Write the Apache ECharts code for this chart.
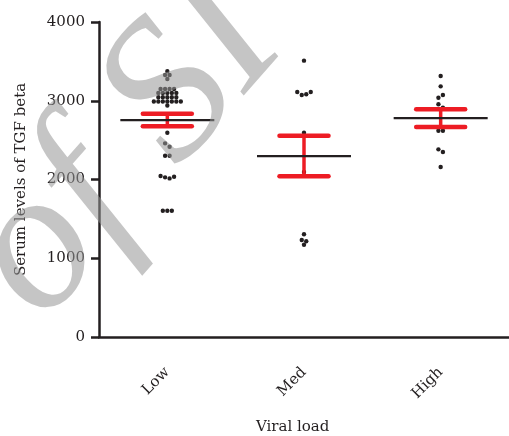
<!DOCTYPE html>
<html>
<head>
<meta charset="utf-8">
<script src="https://cdn.jsdelivr.net/npm/echarts@6/dist/echarts.min.js"></script>
<style>
  html, body { margin: 0; padding: 0; background: #fff; }
  #chart { width: 509px; height: 436px; }
</style>
</head>
<body>
<div id="chart"></div>
<script>
const categories = ['Low', 'Med', 'High']
const lowValues = [
  3374, 3327, 3327, 3276,
  3150, 3150, 3150, 3150,
  3100, 3100, 3100, 3100, 3100,
  3045, 3045, 3045, 3045, 3045,
  2990, 2990, 2990, 2990, 2990, 2990, 2990,
  2940, 2594, 2459, 2416, 2302, 2302,
  2044, 2027, 2014, 2035,
  1604, 1604, 1604,
]
const medValues = [3509, 3111, 3073, 3082, 3111, 2594, 2095, 1304, 1232, 1172, 1215]
const highValues = [3314, 3183, 3039, 3073, 2955, 2912, 2620, 2620, 2383, 2349, 2159]
const groupMeans = [2755, 2298, 2779]
const groupSems = [80, 256, 112]
const yRange = [0, 4000]
const yStep = 1000

const INK = '#231f20'
const RED = '#ed1c24'
const FONT = '"DejaVu Serif", serif'

// values within one row are spread side by side (prism style dot plot)
const _rows = function (values, cat) {
  const order = values.map((v, i) => i).sort((a, b) => values[b] - values[a])
  const rows = []
  order.forEach((i) => {
    const row = rows[rows.length - 1]
    if (row && row.top - values[i] <= 45) row.items.push(i)
    else rows.push({ top: values[i], items: [i] })
  })
  const out = []
  rows.forEach((row) => {
    row.items.sort((a, b) => a - b)
    const n = row.items.length
    row.items.forEach((idx, k) => {
      out.push([cat, values[idx], (k - (n - 1) / 2) * 4.5])
    })
  })
  return out
}

const dots = [].concat(_rows(lowValues, 0), _rows(medValues, 1), _rows(highValues, 2))
const bars = groupMeans.map((m, i) => [i, m, groupSems[i]])

const chart = echarts.init(document.getElementById('chart'))
chart.setOption({
  animation: false,
  grid: { left: 99, right: -4, top: 22, bottom: 99 },
  xAxis: {
    type: 'category',
    data: categories,
    axisLine: { lineStyle: { color: INK, width: 2.5 } },
    axisTick: { alignWithLabel: true, length: 8, lineStyle: { color: INK, width: 2.5 } },
    axisLabel: { rotate: 45, margin: 33, fontFamily: FONT, fontSize: 15, color: INK },
    splitLine: { show: false },
  },
  yAxis: {
    type: 'value',
    min: yRange[0],
    max: yRange[1],
    interval: yStep,
    name: 'Serum levels of TGF beta',
    nameLocation: 'middle',
    nameGap: 70,
    nameTextStyle: { fontFamily: FONT, fontSize: 15, color: INK },
    axisLine: { show: true, lineStyle: { color: INK, width: 2.5 } },
    axisTick: { show: true, length: 8, lineStyle: { color: INK, width: 2.5 } },
    axisLabel: { margin: 14, fontFamily: FONT, fontSize: 15, color: INK, formatter: (v) => String(v) },
    splitLine: { show: false },
  },
  graphic: [
    {
      type: 'text',
      left: 256,
      top: 420,
      style: { text: 'Viral load', fontFamily: 'DejaVu Serif', fontSize: 15, fill: INK },
    },
    {
      // grey watermark lying over the plot
      type: 'text',
      x: 126,
      y: 150,
      rotation: 0.85,
      z: 100,
      silent: true,
      style: {
        text: 'of SI',
        fontFamily: 'serif',
        fontStyle: 'italic',
        fontSize: 200,
        fill: 'rgba(150,150,150,0.55)',
        align: 'center',
        verticalAlign: 'middle',
      },
    },
  ],
  series: [
    {
      type: 'custom',
      data: dots,
      renderItem: (params, api) => {
        const p = api.coord([api.value(0), api.value(1)])
        return {
          type: 'circle',
          shape: { cx: p[0] + api.value(2), cy: p[1], r: 2.2 },
          style: { fill: INK },
        }
      },
    },
    {
      type: 'custom',
      data: bars,
      renderItem: (params, api) => {
        const cat = api.value(0)
        const mean = api.value(1)
        const sem = api.value(2)
        const c = api.coord([cat, mean])
        const hi = api.coord([cat, mean + sem])
        const lo = api.coord([cat, mean - sem])
        const red = { stroke: RED, lineWidth: 4.5, lineCap: 'round' }
        return {
          type: 'group',
          children: [
            { type: 'line', shape: { x1: c[0], y1: hi[1], x2: c[0], y2: lo[1] }, style: { stroke: RED, lineWidth: 3.5 } },
            { type: 'line', shape: { x1: c[0] - 24.5, y1: hi[1], x2: c[0] + 24.5, y2: hi[1] }, style: red },
            { type: 'line', shape: { x1: c[0] - 24.5, y1: lo[1], x2: c[0] + 24.5, y2: lo[1] }, style: red },
            { type: 'line', shape: { x1: c[0] - 47, y1: c[1], x2: c[0] + 47, y2: c[1] }, style: { stroke: INK, lineWidth: 2.3 } },
          ],
        }
      },
    },
  ],
})
</script>
</body>
</html>
